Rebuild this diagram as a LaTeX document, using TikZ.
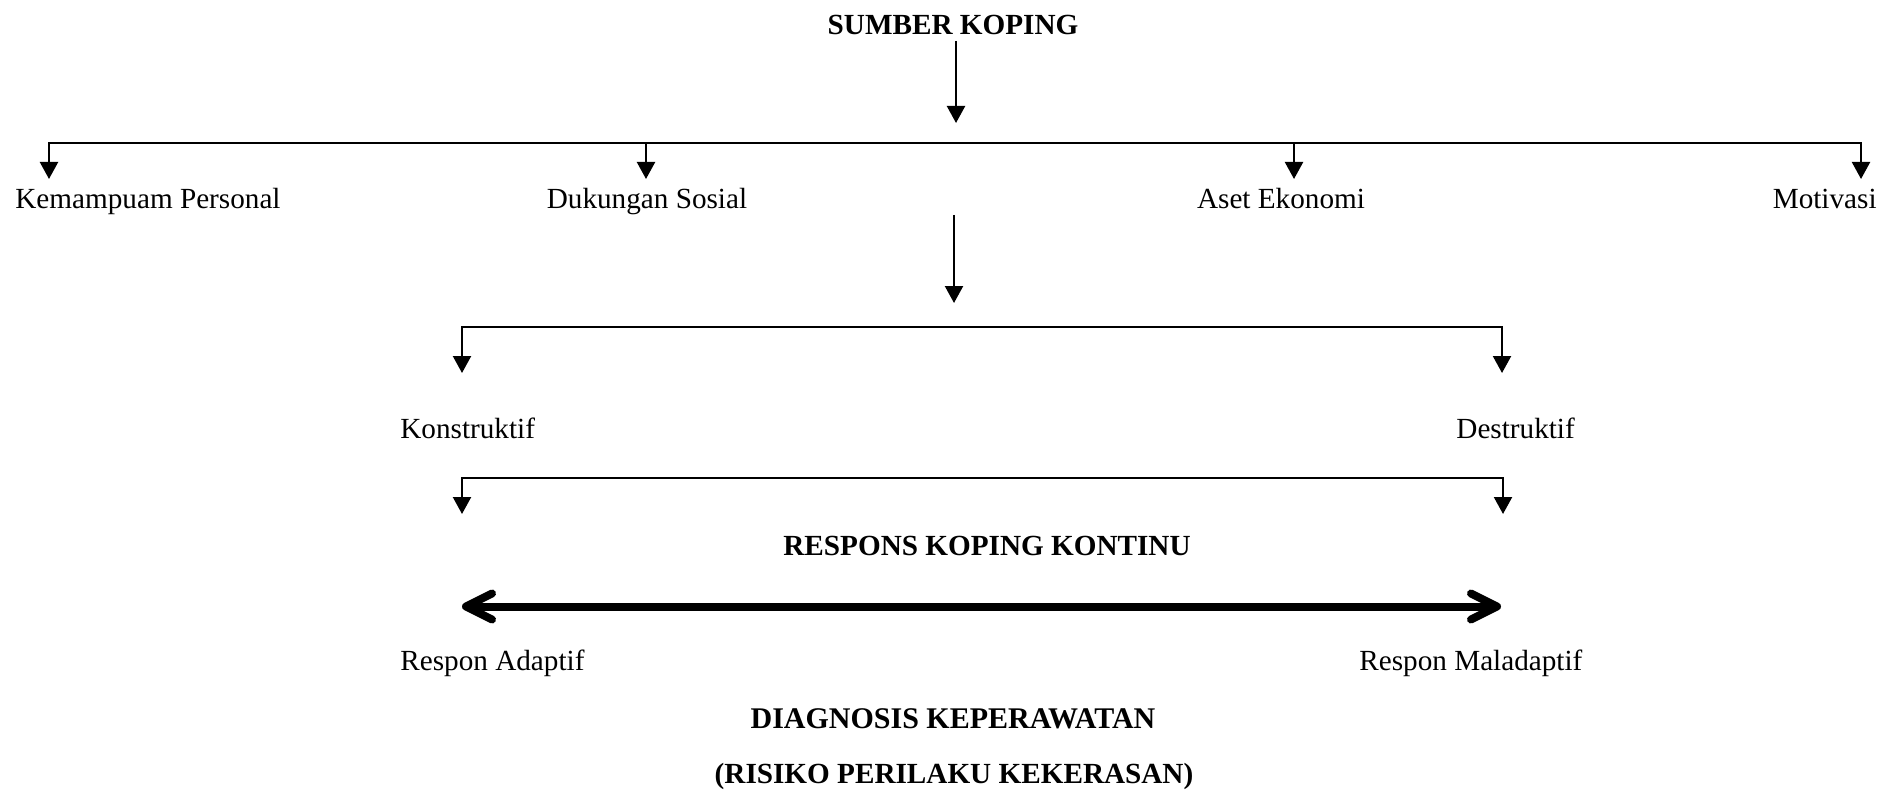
\documentclass[tikz,border=0pt]{standalone}
\usepackage{fontspec}
\setmainfont{Liberation Serif}
\usetikzlibrary{arrows.meta}
\begin{document}
\begin{tikzpicture}[x=0.5pt,y=-0.5pt,
  lbl/.style={inner sep=0pt, font=\fontsize{14.6}{17}\selectfont},
  hdr/.style={inner sep=0pt, font=\fontsize{14.6}{17}\selectfont\bfseries},
  conn/.style={line width=1.1pt},
  tri/.style={conn,-{Triangle[length=8.5pt,width=9pt]}},
  bitri/.style={conn,{Triangle[length=8.5pt,width=9pt]}-{Triangle[length=8.5pt,width=9pt]}},
  thick arrow/.style={line width=4pt,
    {Straight Barb[length=13pt,width=13pt,round]}-{Straight Barb[length=13pt,width=13pt,round]}}
]
\useasboundingbox (0,0) rectangle (1883,791);

% texts
\node[hdr, anchor=base] (sk) at (953,35) {SUMBER KOPING};
\node[lbl, anchor=base west] (kp) at (15,209) {Kemampuam Personal};
\node[lbl, anchor=base] (ds) at (647,209) {Dukungan Sosial};
\node[lbl, anchor=base] (ae) at (1281,209) {Aset Ekonomi};
\node[lbl, anchor=base east] (mo) at (1877,209) {Motivasi};
\node[lbl, anchor=base west] (kon) at (400,438) {Konstruktif};
\node[lbl, anchor=base west] (des) at (1456,438) {Destruktif};
\node[hdr, anchor=base] (rkk) at (987,555) {RESPONS KOPING KONTINU};
\node[lbl, anchor=base west] (ra) at (400,670) {Respon Adaptif};
\node[lbl, anchor=base west] (rm) at (1359,670) {Respon Maladaptif};
\node[hdr, anchor=base, font=\fontsize{15}{17}\selectfont\bfseries] (dk) at (953,728) {DIAGNOSIS KEPERAWATAN};
\node[hdr, anchor=base] (rpk) at (954,783) {(RISIKO PERILAKU KEKERASAN)};

% connector points
\coordinate (a1s) at (956,41);
\coordinate (a1e) at (956,123);
\coordinate (b1l) at (49,179);
\coordinate (b1r) at (1861,179);
\coordinate (b1y) at (956,143);
\coordinate (b1ds) at (646,143);
\coordinate (b1dse) at (646,179);
\coordinate (b1ae) at (1294,143);
\coordinate (b1aee) at (1294,179);

\coordinate (a2s) at (954,215);
\coordinate (a2e) at (954,303);
\coordinate (b2l) at (462,373);
\coordinate (b2r) at (1502,373);
\coordinate (b2y) at (954,327);

\coordinate (b3l) at (462,514);
\coordinate (b3r) at (1503,514);
\coordinate (b3y) at (954,478);

\coordinate (tl) at (462,606.5);
\coordinate (tr) at (1501,606.5);

% connectors
\draw[tri] (a1s) -- (a1e);
\draw[bitri] (b1l) |- (b1y) -| (b1r);
\draw[tri] (b1ds) -- (b1dse);
\draw[tri] (b1ae) -- (b1aee);

\draw[tri] (a2s) -- (a2e);
\draw[bitri] (b2l) |- (b2y) -| (b2r);

\draw[bitri] (b3l) |- (b3y) -| (b3r);

\draw[thick arrow] (tl) -- (tr);
\end{tikzpicture}
\end{document}
